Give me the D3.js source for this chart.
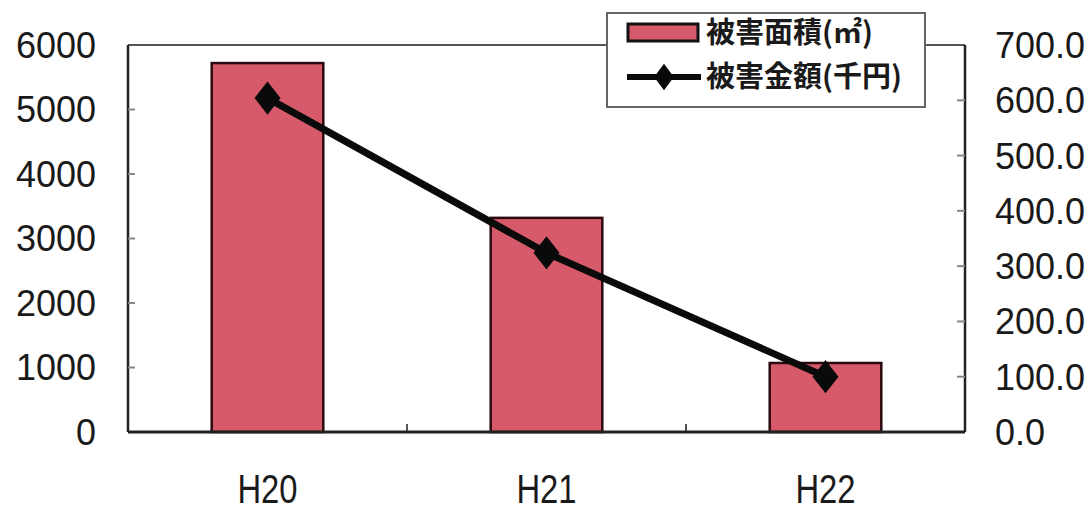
<!DOCTYPE html>
<html>
<head>
<meta charset="utf-8">
<script src="https://cdn.jsdelivr.net/npm/d3@7"></script>
<style>
  body { margin: 0; background: #fff; }
  svg { display: block; }
  .tick-label { font-family: "Liberation Sans", Arial, sans-serif; fill: #1a1a1a; }
  .legend text { font-family: "Noto Sans CJK JP", sans-serif; font-weight: 700; fill: #1a1a1a; }
</style>
</head>
<body>
<div id="chart"></div>
<script>
// data
const years = ["H20", "H21", "H22"];
const area = [5720, 3320, 1070];      // 被害面積(㎡), left axis
const damage = [604, 324, 100];       // 被害金額(千円), right axis
const leftTicks = [0, 1000, 2000, 3000, 4000, 5000, 6000];
const rightTicks = [0, 100, 200, 300, 400, 500, 600, 700];
const legendLabels = ["被害面積(㎡)", "被害金額(千円)"];

const width = 1091;
const height = 512;
const margin = {left: 128, top: 45, right: 126, bottom: 80};
const barColor = "#d65a69";

const svg = d3.select("#chart")
    .append("svg")
    .attr("width", width)
    .attr("height", height);

const x = d3.scaleBand()
    .domain(years)
    .range([margin.left, width - margin.right])
    .paddingInner(0)
    .paddingOuter(0);

const yL = d3.scaleLinear()
    .domain([0, 6000])
    .range([height - margin.bottom, margin.top]);

const yR = d3.scaleLinear()
    .domain([0, 700])
    .range([height - margin.bottom, margin.top]);

const barW = x.bandwidth() * 0.4;
const x0 = margin.left, x1 = width - margin.right;
const yTop = margin.top, yBot = height - margin.bottom;

// plot frame
svg.append("line").attr("x1", x0).attr("x2", x1).attr("y1", yTop).attr("y2", yTop)
    .attr("stroke", "#555").attr("stroke-width", 2);
svg.append("line").attr("x1", x0).attr("x2", x0).attr("y1", yTop).attr("y2", yBot)
    .attr("stroke", "#222").attr("stroke-width", 2.5);
svg.append("line").attr("x1", x1).attr("x2", x1).attr("y1", yTop).attr("y2", yBot)
    .attr("stroke", "#222").attr("stroke-width", 2.5);

// small inner ticks
svg.selectAll("line.ltick")
    .data(leftTicks.slice(1, -1))
    .enter()
    .append("line")
    .attr("class", "ltick")
    .attr("x1", x0).attr("x2", x0 + 7)
    .attr("y1", d => yL(d)).attr("y2", d => yL(d))
    .attr("stroke", "#888").attr("stroke-width", 2);

svg.selectAll("line.rtick")
    .data(rightTicks.slice(1, -1))
    .enter()
    .append("line")
    .attr("class", "rtick")
    .attr("x1", x1 - 8).attr("x2", x1)
    .attr("y1", d => yR(d)).attr("y2", d => yR(d))
    .attr("stroke", "#888").attr("stroke-width", 2);

svg.selectAll("line.xtick")
    .data(years.slice(1))
    .enter()
    .append("line")
    .attr("class", "xtick")
    .attr("x1", d => x(d)).attr("x2", d => x(d))
    .attr("y1", yBot).attr("y2", yBot - 8)
    .attr("stroke", "#555").attr("stroke-width", 2);

// bars
svg.selectAll("rect.bar")
    .data(years)
    .enter()
    .append("rect")
    .attr("class", "bar")
    .attr("x", d => x(d) + (x.bandwidth() - barW) / 2)
    .attr("y", (d, i) => yL(area[i]))
    .attr("width", barW)
    .attr("height", (d, i) => yBot - yL(area[i]))
    .attr("fill", barColor)
    .attr("stroke", "#2a0a0e")
    .attr("stroke-width", 2.5);

// bottom axis line on top of bars
svg.append("line").attr("x1", x0).attr("x2", x1).attr("y1", yBot).attr("y2", yBot)
    .attr("stroke", "#222").attr("stroke-width", 3);

// damage line
const cx = d => x(d) + x.bandwidth() / 2;
const line = d3.line()
    .x(d => cx(d))
    .y((d, i) => yR(damage[i]));

svg.append("path")
    .datum(years)
    .attr("d", line)
    .attr("fill", "none")
    .attr("stroke", "#0a0a0a")
    .attr("stroke-width", 7);

const diamond = d3.symbol().type(d3.symbolDiamond).size(320);
svg.selectAll("path.marker")
    .data(years)
    .enter()
    .append("path")
    .attr("class", "marker")
    .attr("d", diamond)
    .attr("transform", (d, i) => `translate(${cx(d)},${yR(damage[i])}) scale(1.35,1)`)
    .attr("fill", "#0a0a0a");

// axis labels
svg.selectAll("text.yl")
    .data(leftTicks)
    .enter()
    .append("text")
    .attr("class", "tick-label yl")
    .attr("x", 96)
    .attr("y", d => yL(d))
    .attr("dy", "0.36em")
    .attr("text-anchor", "end")
    .style("font-size", "36px")
    .text(d => d);

svg.selectAll("text.yr")
    .data(rightTicks)
    .enter()
    .append("text")
    .attr("class", "tick-label yr")
    .attr("x", 995)
    .attr("y", d => yR(d))
    .attr("dy", "0.36em")
    .style("font-size", "36px")
    .text(d => d3.format(".1f")(d));

svg.selectAll("text.xl")
    .data(years)
    .enter()
    .append("text")
    .attr("class", "tick-label xl")
    .attr("transform", d => `translate(${cx(d)},503) scale(0.82,1)`)
    .attr("text-anchor", "middle")
    .style("font-size", "40px")
    .text(d => d);

// legend
const lg = svg.append("g").attr("class", "legend").attr("transform", "translate(607,13)");
lg.append("rect")
    .attr("width", 318).attr("height", 94)
    .attr("fill", "#fff").attr("stroke", "#666").attr("stroke-width", 2);
lg.append("rect")
    .attr("x", 21).attr("y", 11).attr("width", 70).attr("height", 17)
    .attr("fill", barColor).attr("stroke", "#111").attr("stroke-width", 3);
lg.append("line")
    .attr("x1", 20).attr("x2", 94).attr("y1", 64).attr("y2", 64)
    .attr("stroke", "#0a0a0a").attr("stroke-width", 6);
lg.append("path")
    .attr("d", d3.symbol().type(d3.symbolDiamond).size(200))
    .attr("transform", "translate(57,64) scale(1.3,1)")
    .attr("fill", "#0a0a0a");
lg.selectAll("text")
    .data(legendLabels)
    .enter()
    .append("text")
    .attr("x", 99)
    .attr("y", (d, i) => 20 + i * 44)
    .attr("dy", "0.36em")
    .style("font-size", "29px")
    .text(d => d);
</script>
</body>
</html>
